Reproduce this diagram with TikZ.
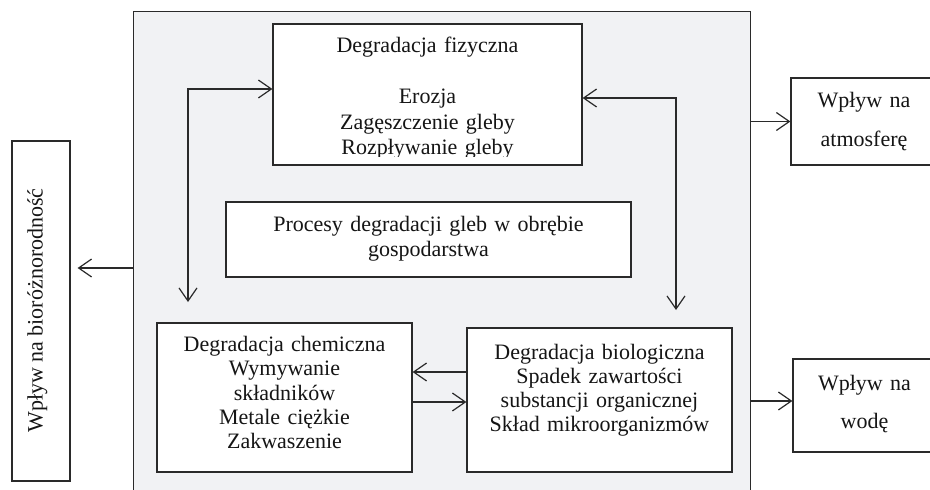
\documentclass[tikz,border=0pt]{standalone}
\usepackage{fontspec}
\setmainfont{Liberation Serif}
\usetikzlibrary{arrows.meta}

\definecolor{inkline}{HTML}{2A2A2A}
\definecolor{inktext}{HTML}{151515}
\definecolor{farmgray}{HTML}{F1F2F4}

\tikzset{
  box/.style={draw=inkline, line width=1.2pt, fill=white, rectangle, inner sep=0pt},
  farmbox/.style={draw=inkline, line width=1pt, fill=farmgray, rectangle, inner sep=0pt},
  txt/.style={text=inktext, inner sep=0pt, anchor=base, align=center},
  barb/.tip={Straight Barb[length=13pt, width=18pt, line width=1.2pt]},
  onearrow/.style={draw=inkline, line width=1.25pt, -barb},
  botharrow/.style={draw=inkline, line width=1.25pt, barb-barb},
}

\begin{document}
\begin{tikzpicture}[x=1pt, y=-1pt]
  \useasboundingbox (0,0) rectangle (930,490);

  % farm-level frame
  \node[farmbox, minimum width=617pt, minimum height=499pt] (farm) at (441.5,260.5) {};

  % inner process boxes
  \node[box, minimum width=309pt, minimum height=141pt] (phys) at (427.5,94.5) {};
  \node[box, minimum width=405pt, minimum height=75pt] (proc) at (428.5,239.5) {};
  \node[box, minimum width=255pt, minimum height=149pt] (chem) at (284.5,397.5) {};
  \node[box, minimum width=265pt, minimum height=144pt] (bio) at (599.5,400) {};

  % impact boxes
  \node[box, minimum width=146pt, minimum height=87pt] (atm) at (864,121.5) {};
  \node[box, minimum width=144pt, minimum height=93pt] (water) at (865,405.5) {};
  \node[box, minimum width=58pt, minimum height=340pt] (biodiv) at (41,311) {};

  % texts (the last line of the physical box is cut at its baseline)
  \begin{scope}
    \clip (phys.north west) rectangle (phys.east |- 0,156.5);
    \node[txt, text width=300pt, font=\fontsize{22}{25.5}\selectfont] (physt) at (427.5,52.7)
      {Degradacja fizyczna\\[25.5pt]Erozja\\Zagęszczenie gleby\\Rozpływanie gleby};
  \end{scope}
  \node[txt, text width=400pt, font=\fontsize{22}{25}\selectfont] (proct) at (428.5,231.7)
    {Procesy degradacji gleb w obrębie\\gospodarstwa};
  \node[txt, text width=250pt, font=\fontsize{22}{24.2}\selectfont] (chemt) at (284.5,351.7)
    {Degradacja chemiczna\\Wymywanie\\składników\\Metale ciężkie\\Zakwaszenie};
  \node[txt, text width=262pt, font=\fontsize{22}{24.2}\selectfont] (biot) at (599.5,359.3)
    {Degradacja biologiczna\\Spadek zawartości\\substancji organicznej\\Skład mikroorganizmów};
  \node[txt, text width=140pt, font=\fontsize{22}{39}\selectfont] (atmt) at (864,107)
    {Wpływ na\\atmosferę};
  \node[txt, text width=140pt, font=\fontsize{22}{38}\selectfont] (watert) at (864.5,390)
    {Wpływ na\\wodę};
  \node[txt, rotate=90, font=\fontsize{22}{26}\selectfont] (biodivt) at (42.5,310.5)
    {Wpływ na bioróżnorodność};

  % connectors
  \coordinate (lcorner) at (188,89);
  \coordinate (chemin) at (188,302);
  \coordinate (rcorner) at (676,98);
  \coordinate (bioin) at (676,310);
  \coordinate (upper) at (0,372);
  \coordinate (lower) at (0,402);
  \coordinate (wlevel) at (0,401);
  \coordinate (blevel) at (0,268);

  \draw[botharrow] (chemin) -- (lcorner) -- (phys.west |- lcorner);
  \draw[botharrow] (phys.east |- rcorner) -- (rcorner) -- (bioin);
  \draw[onearrow] (bio.west |- upper) -- (chem.east |- upper);
  \draw[onearrow] (chem.east |- lower) -- (bio.west |- lower);
  \draw[onearrow] (farm.east |- atm.west) -- (atm.west);
  \draw[onearrow] (farm.east |- wlevel) -- (water.west |- wlevel);
  \draw[onearrow, shorten >=7pt] (farm.west |- blevel) -- (biodiv.east |- blevel);
\end{tikzpicture}
\end{document}
